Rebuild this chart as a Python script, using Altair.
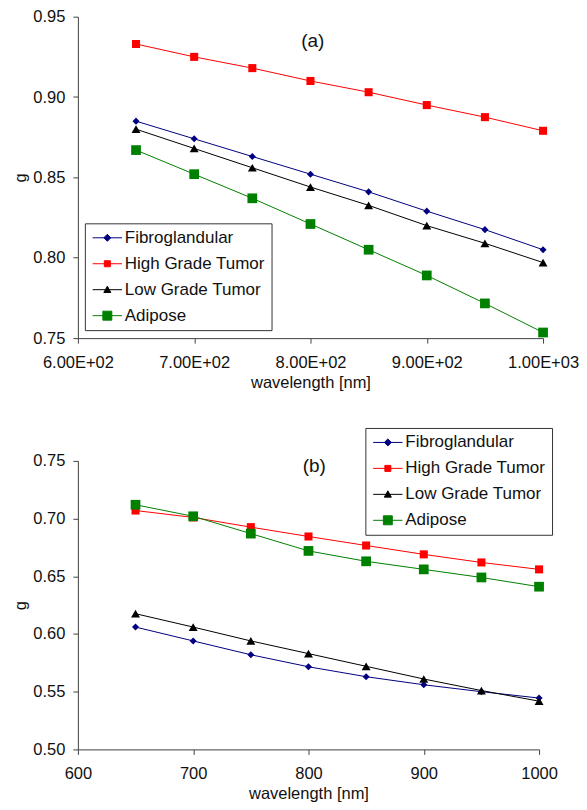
import altair as alt
import pandas as pd

FONT = "Liberation Sans"

wavelengths = [650, 700, 750, 800, 850, 900, 950, 1000]
series_names = ["Fibroglandular", "High Grade Tumor", "Low Grade Tumor", "Adipose"]
series_colors = ["#000080", "#FF0000", "#000000", "#008000"]
series_shapes = ["diamond", "square", "triangle-up", "square"]
series_sizes = [45, 40, 50, 95]

# panel (a)
g_a_fibro = [0.885, 0.874, 0.863, 0.852, 0.841, 0.829, 0.8175, 0.805]
g_a_high = [0.933, 0.925, 0.918, 0.910, 0.903, 0.895, 0.8875, 0.879]
g_a_low = [0.880, 0.868, 0.856, 0.844, 0.8326, 0.820, 0.809, 0.797]
g_a_adipose = [0.867, 0.852, 0.837, 0.821, 0.805, 0.789, 0.7716, 0.7535]

# panel (b)
g_b_fibro = [0.606, 0.594, 0.582, 0.5716, 0.563, 0.556, 0.550, 0.5445]
g_b_high = [0.707, 0.701, 0.6926, 0.6845, 0.6767, 0.669, 0.662, 0.656]
g_b_low = [0.6176, 0.606, 0.594, 0.583, 0.572, 0.561, 0.551, 0.5418]
g_b_adipose = [0.712, 0.702, 0.687, 0.672, 0.663, 0.656, 0.649, 0.641]

x_ticks = [600, 700, 800, 900, 1000]
y_ticks_a = [0.75, 0.80, 0.85, 0.90, 0.95]
y_ticks_b = [0.50, 0.55, 0.60, 0.65, 0.70, 0.75]

panel_labels = ["(a)", "(b)"]
panel_label_x = [802, 805]
panel_label_y = [0.935, 0.746]

# legend symbol paths (line with marker), unit square coords
legend_line = "M-2.1,0L2.1,0"
legend_markers = [
    "M0,-0.5L0.5,0L0,0.5L-0.5,0Z",
    "M-0.43,-0.43L0.43,-0.43L0.43,0.43L-0.43,0.43Z",
    "M0,-0.5L0.5,0.4L-0.5,0.4Z",
    "M-0.64,-0.64L0.64,-0.64L0.64,0.64L-0.64,0.64Z",
]
legend_paths = [legend_line + m for m in legend_markers]
names_js = "[" + ",".join(f"'{n}'" for n in series_names) + "]"
idx_js = f"indexof({names_js}, datum.value)"
shape_expr = "[" + ",".join(f"'{p}'" for p in legend_paths) + "][" + idx_js + "]"
color_expr = "[" + ",".join(f"'{c}'" for c in series_colors) + "][" + idx_js + "]"

# marker scales listed in reverse order so they stay separate from the colour legend
marker_domain = series_names[::-1]
marker_shapes = series_shapes[::-1]
marker_sizes = series_sizes[::-1]


def build_df(values_list):
    rows = []
    for name, vals in zip(series_names, values_list):
        for w, v in zip(wavelengths, vals):
            rows.append({"wavelength": w, "g": v, "series": name})
    return pd.DataFrame(rows)


df_a = build_df([g_a_fibro, g_a_high, g_a_low, g_a_adipose])
df_b = build_df([g_b_fibro, g_b_high, g_b_low, g_b_adipose])


def make_legend(lx, ly):
    return alt.Legend(
        title=None,
        orient="none",
        legendX=lx,
        legendY=ly,
        fillColor="white",
        strokeColor="#333333",
        padding=6,
        labelFont=FONT,
        labelFontSize=17,
        labelColor="#111111",
        symbolSize=196,
        symbolOffset=8,
        labelOffset=9,
        rowPadding=8,
        symbolType=alt.ExprRef(expr=shape_expr),
        symbolStrokeColor=alt.ExprRef(expr=color_expr),
        symbolFillColor=alt.ExprRef(expr=color_expr),
        symbolStrokeWidth=1,
        symbolOpacity=1,
    )


def make_panel(df, y_domain, y_ticks, xfmt_sci, legend, label_idx, width, height):
    if xfmt_sci:
        label_expr = ("datum.value >= 1000 ? format(datum.value/1000, '.2f') + 'E+03' : "
                      "format(datum.value/100, '.2f') + 'E+02'")
    else:
        label_expr = "format(datum.value, 'd')"
    x = alt.X(
        "wavelength:Q",
        scale=alt.Scale(domain=[600, 1000], nice=False, zero=False),
        axis=alt.Axis(values=x_ticks, labelExpr=label_expr, title="wavelength [nm]",
                      labelPadding=11, labelFlush=False, labelOverlap=False),
    )
    y = alt.Y(
        "g:Q",
        scale=alt.Scale(domain=y_domain, nice=False, zero=False),
        axis=alt.Axis(values=y_ticks, format=".2f", title="g", labelFlush=False),
    )
    color_scale = alt.Scale(domain=series_names, range=series_colors)
    lines = alt.Chart(df).mark_line(strokeWidth=1).encode(
        x=x, y=y,
        color=alt.Color("series:N", scale=color_scale, legend=legend),
        detail="series:N",
    )
    points = alt.Chart(df).mark_point(filled=True, opacity=1).encode(
        x=x, y=y,
        color=alt.Color("series:N", scale=color_scale, legend=legend),
        shape=alt.Shape("series:N", scale=alt.Scale(domain=marker_domain, range=marker_shapes), legend=None),
        size=alt.Size("series:N", scale=alt.Scale(domain=marker_domain, range=marker_sizes), legend=None),
    )
    lab_df = pd.DataFrame({
        "wavelength": [panel_label_x[label_idx]],
        "g": [panel_label_y[label_idx]],
        "label": [panel_labels[label_idx]],
    })
    label = alt.Chart(lab_df).mark_text(font=FONT, fontSize=19, color="#111111").encode(
        x=alt.X("wavelength:Q"), y=alt.Y("g:Q"), text="label:N"
    )
    return alt.layer(lines, points, label).properties(width=width, height=height)


top = make_panel(df_a, [0.75, 0.95], y_ticks_a, True, make_legend(7, 207), 0, 466, 322)
bottom = make_panel(df_b, [0.50, 0.75], y_ticks_b, False, make_legend(288, -33), 1, 462, 289)

chart = alt.vconcat(top, bottom, spacing=36).resolve_scale(
    color="independent", shape="independent", size="independent"
).resolve_legend(color="independent").properties(
    padding={"left": 4, "top": 0, "right": 0, "bottom": 0}
).configure_view(stroke=None).configure_axis(
    grid=False,
    domainColor="#404040",
    tickColor="#404040",
    tickSize=5,
    labelFont=FONT,
    labelFontSize=16.5,
    labelColor="#111111",
    labelPadding=8,
    titleFont=FONT,
    titleFontSize=16.5,
    titleFontWeight="normal",
    titleColor="#111111",
)

chart.save("out.html", embed_options={"renderer": "svg", "actions": False})
